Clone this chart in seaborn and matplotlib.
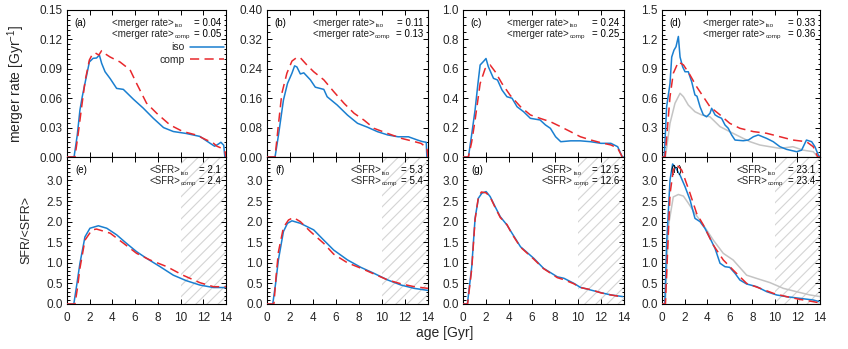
import matplotlib
matplotlib.use("Agg")
import matplotlib.pyplot as plt
import seaborn as sns
from matplotlib.ticker import MultipleLocator, AutoMinorLocator, FormatStrFormatter

# ---------------- data ----------------
# merger rate panels (a)-(d)
age_a_iso = [0.0, 0.62, 0.9, 1.14, 1.35, 1.58, 1.97, 2.3, 2.6, 2.85, 3.05, 3.35, 3.8, 4.37, 4.96, 5.4, 5.84, 6.7, 7.6, 8.5, 9.36, 10.5, 11.7, 12.6, 13.0, 13.3, 13.55, 13.8, 13.9, 14.0]
mr_a_iso = [0.0, 0.0, 0.022, 0.048, 0.062, 0.075, 0.097, 0.1007, 0.101, 0.104, 0.0956, 0.087, 0.080, 0.070, 0.069, 0.064, 0.059, 0.050, 0.0395, 0.030, 0.026, 0.024, 0.021, 0.014, 0.011, 0.013, 0.015, 0.012, 0.0, 0.0]
age_a_comp = [0.0, 0.7, 1.0, 1.3, 1.6, 1.97, 2.2, 2.46, 2.8, 3.05, 3.4, 3.8, 4.66, 5.55, 6.13, 7.0, 7.9, 9.07, 10.2, 11.4, 12.3, 12.8, 13.2, 13.6, 13.9, 14.0]
mr_a_comp = [0.0, 0.0, 0.025, 0.052, 0.078, 0.099, 0.104, 0.1064, 0.104, 0.1085, 0.105, 0.102, 0.097, 0.089, 0.075, 0.055, 0.0446, 0.0327, 0.026, 0.0224, 0.0173, 0.015, 0.011, 0.009, 0.006, 0.0]

age_b_iso = [0.0, 0.7, 1.0, 1.43, 1.78, 2.17, 2.4, 2.6, 2.9, 3.2, 3.77, 4.2, 4.94, 5.23, 6.1, 7.0, 7.87, 8.74, 9.6, 10.5, 11.4, 12.3, 13.1, 13.5, 13.85, 13.9, 14.0]
mr_b_iso = [0.0, 0.0, 0.06, 0.155, 0.2, 0.228, 0.248, 0.245, 0.226, 0.229, 0.21, 0.19, 0.184, 0.164, 0.1415, 0.114, 0.0917, 0.081, 0.069, 0.060, 0.055, 0.055, 0.046, 0.042, 0.040, 0.0, 0.0]
age_b_comp = [0.0, 0.7, 1.0, 1.29, 1.73, 2.17, 2.6, 2.9, 3.48, 4.06, 4.94, 5.8, 6.7, 7.57, 8.45, 9.3, 10.5, 11.66, 12.8, 13.4, 13.9, 14.0]
mr_b_comp = [0.0, 0.0, 0.09, 0.173, 0.228, 0.261, 0.271, 0.27, 0.25, 0.232, 0.21, 0.178, 0.146, 0.119, 0.10, 0.078, 0.064, 0.051, 0.042, 0.037, 0.025, 0.0]

age_c_iso = [0.0, 0.47, 0.75, 1.05, 1.3, 1.49, 1.78, 2.0, 2.2, 2.65, 3.0, 3.39, 3.82, 4.26, 4.7, 5.27, 5.86, 6.7, 7.17, 7.6, 8.05, 8.5, 9.36, 10.2, 11.1, 12.0, 12.86, 13.45, 13.85, 14.0]
mr_c_iso = [0.0, 0.0, 0.15, 0.32, 0.5, 0.626, 0.65, 0.67, 0.615, 0.535, 0.524, 0.456, 0.41, 0.40, 0.342, 0.308, 0.263, 0.252, 0.218, 0.195, 0.138, 0.104, 0.11, 0.11, 0.104, 0.093, 0.093, 0.07, 0.0, 0.0]
age_c_comp = [0.0, 0.47, 0.75, 1.05, 1.49, 1.92, 2.36, 2.8, 3.39, 4.1, 5.0, 5.86, 6.7, 7.6, 8.5, 9.36, 10.2, 11.1, 12.0, 12.86, 13.45, 13.85, 14.0]
mr_c_comp = [0.0, 0.0, 0.1, 0.25, 0.5, 0.6, 0.626, 0.58, 0.50, 0.42, 0.342, 0.286, 0.263, 0.24, 0.206, 0.172, 0.138, 0.116, 0.097, 0.082, 0.06, 0.0, 0.0]

age_d_iso = [0.0, 0.2, 0.41, 0.71, 0.86, 1.06, 1.24, 1.45, 1.6, 1.83, 2.04, 2.33, 2.63, 2.92, 3.1, 3.37, 3.66, 3.95, 4.25, 4.4, 4.7, 4.98, 5.28, 5.58, 5.87, 6.17, 6.47, 7.2, 7.65, 8.1, 8.53, 9.27, 9.86, 10.45, 11.04, 11.93, 12.37, 12.8, 13.26, 13.55, 13.85, 14.0]
mr_d_iso = [0.0, 0.0, 0.513, 0.75, 1.02, 1.09, 1.125, 1.23, 1.02, 0.92, 0.87, 0.87, 0.768, 0.633, 0.62, 0.513, 0.43, 0.41, 0.446, 0.497, 0.43, 0.41, 0.395, 0.327, 0.293, 0.225, 0.173, 0.166, 0.173, 0.207, 0.225, 0.19, 0.156, 0.105, 0.078, 0.054, 0.07, 0.173, 0.156, 0.105, 0.02, 0.0]
age_d_comp = [0.0, 0.27, 0.71, 1.0, 1.45, 1.9, 2.48, 3.07, 3.66, 4.25, 5.14, 6.0, 6.9, 8.1, 9.27, 10.45, 11.6, 12.8, 13.4, 13.8, 14.0]
mr_d_comp = [0.0, 0.0, 0.615, 0.854, 0.97, 0.94, 0.837, 0.717, 0.615, 0.513, 0.43, 0.344, 0.293, 0.259, 0.242, 0.207, 0.173, 0.156, 0.105, 0.0, 0.0]
age_d_all = [0.0, 0.3, 0.71, 1.15, 1.6, 1.9, 2.33, 2.92, 3.5, 4.25, 5.14, 6.0, 6.9, 7.8, 8.68, 9.56, 10.45, 11.6, 12.5, 13.4, 13.8, 14.0]
mr_d_all = [0.0, 0.0, 0.344, 0.548, 0.65, 0.615, 0.53, 0.462, 0.43, 0.41, 0.31, 0.259, 0.207, 0.156, 0.122, 0.105, 0.088, 0.105, 0.07, 0.054, 0.0, 0.0]

# normalised SFR panels (e)-(h)
age_e_iso = [0.0, 0.6, 0.85, 1.14, 1.58, 2.02, 2.76, 3.5, 4.37, 5.25, 6.13, 7.0, 8.2, 9.36, 10.5, 11.7, 12.9, 14.0]
sfr_e_iso = [0.0, 0.0, 0.45, 0.99, 1.63, 1.84, 1.90, 1.84, 1.68, 1.47, 1.27, 1.11, 0.906, 0.70, 0.567, 0.46, 0.40, 0.40]
age_e_comp = [0.0, 0.7, 0.9, 1.14, 1.58, 2.2, 2.6, 3.8, 5.0, 6.13, 7.3, 8.8, 10.2, 11.7, 12.9, 14.0]
sfr_e_comp = [0.0, 0.0, 0.35, 0.87, 1.55, 1.80, 1.82, 1.72, 1.47, 1.23, 1.07, 0.906, 0.70, 0.518, 0.42, 0.42]

age_f_iso = [0.0, 0.5, 0.75, 0.99, 1.43, 1.78, 2.17, 2.9, 4.06, 4.94, 5.8, 7.0, 8.16, 9.3, 10.5, 11.66, 12.8, 14.0]
sfr_f_iso = [0.0, 0.0, 0.5, 1.07, 1.76, 1.96, 2.02, 1.96, 1.80, 1.55, 1.31, 1.07, 0.89, 0.745, 0.583, 0.46, 0.38, 0.33]
age_f_comp = [0.0, 0.6, 0.8, 0.99, 1.43, 1.87, 2.3, 2.9, 3.77, 4.94, 5.8, 7.0, 8.16, 9.3, 10.5, 11.66, 12.8, 14.0]
sfr_f_comp = [0.0, 0.0, 0.7, 1.26, 1.86, 2.04, 2.1, 2.0, 1.76, 1.47, 1.21, 1.0, 0.87, 0.73, 0.583, 0.49, 0.42, 0.38]

age_g_iso = [0.0, 0.38, 0.76, 1.05, 1.34, 1.64, 2.01, 2.36, 2.8, 3.24, 3.82, 4.26, 5.0, 6.15, 7.0, 8.2, 8.78, 9.65, 10.2, 11.1, 12.0, 12.86, 13.9]
sfr_g_iso = [0.0, 0.0, 0.906, 2.08, 2.57, 2.69, 2.73, 2.61, 2.36, 2.12, 1.92, 1.72, 1.39, 1.11, 0.867, 0.66, 0.624, 0.50, 0.405, 0.34, 0.275, 0.22, 0.18]
age_g_comp = [0.0, 0.4, 0.76, 1.05, 1.34, 1.6, 2.0, 2.36, 2.8, 3.24, 3.82, 4.26, 5.0, 6.15, 7.0, 8.2, 8.78, 9.65, 10.2, 11.1, 12.0, 12.86, 13.9]
sfr_g_comp = [0.0, 0.0, 0.85, 2.05, 2.6, 2.72, 2.70, 2.6, 2.34, 2.1, 1.93, 1.70, 1.38, 1.09, 0.86, 0.64, 0.59, 0.49, 0.40, 0.35, 0.27, 0.22, 0.17]

age_h_iso = [0.0, 0.25, 0.41, 0.71, 0.94, 1.15, 1.6, 2.04, 2.48, 2.92, 3.37, 3.8, 4.25, 4.7, 5.14, 5.58, 6.0, 6.47, 6.9, 7.5, 8.4, 9.27, 10.16, 11.04, 12.2, 13.4, 13.9]
sfr_h_iso = [0.0, 0.0, 1.47, 3.01, 3.4, 3.33, 3.13, 2.85, 2.53, 2.08, 2.0, 1.84, 1.60, 1.35, 0.99, 0.906, 0.89, 0.745, 0.583, 0.486, 0.42, 0.30, 0.219, 0.178, 0.138, 0.097, 0.06]
age_h_comp = [0.0, 0.3, 0.71, 1.0, 1.3, 1.75, 2.48, 3.07, 3.66, 4.55, 5.43, 6.3, 7.5, 8.7, 9.86, 11.04, 12.2, 13.4, 13.9]
sfr_h_comp = [0.0, 0.0, 2.67, 3.25, 3.38, 3.25, 2.69, 2.2, 1.92, 1.43, 1.07, 0.826, 0.50, 0.38, 0.26, 0.178, 0.113, 0.057, 0.03]
age_h_all = [0.0, 0.3, 0.56, 1.0, 1.45, 1.9, 2.33, 2.92, 3.66, 4.55, 5.43, 6.3, 7.5, 8.4, 9.56, 10.75, 11.9, 13.1, 14.0]
sfr_h_all = [0.0, 0.0, 1.88, 2.6, 2.66, 2.62, 2.45, 2.2, 1.92, 1.55, 1.23, 1.07, 0.70, 0.62, 0.52, 0.38, 0.30, 0.22, 0.18]

panel_labels_top = ["(a)", "(b)", "(c)", "(d)"]
panel_labels_bot = ["(e)", "(f)", "(g)", "(h)"]
mr_iso_mean = [0.04, 0.11, 0.24, 0.33]
mr_comp_mean = [0.05, 0.13, 0.25, 0.36]
sfr_iso_mean = [2.1, 5.3, 12.5, 23.1]
sfr_comp_mean = [2.4, 5.4, 12.6, 23.4]
top_ymax = [0.15, 0.40, 1.0, 1.5]
top_ystep = [0.03, 0.08, 0.2, 0.3]
top_fmt = ["%.2f", "%.2f", "%.1f", "%.1f"]
top_minor = [6, 4, 4, 6]
sfr_ticks = [0.0, 0.5, 1.0, 1.5, 2.0, 2.5, 3.0]
x_ticks = [0, 2, 4, 6, 8, 10, 12, 14]

# ---------------- style ----------------
sns.set_style("ticks")
plt.rcParams["font.family"] = ["Liberation Sans", "DejaVu Sans"]
plt.rcParams["mathtext.fontset"] = "custom"
plt.rcParams["mathtext.rm"] = "Liberation Sans"
plt.rcParams["mathtext.it"] = "Liberation Sans:italic"
plt.rcParams["hatch.linewidth"] = 0.8

BLUE = "#1a7fd0"
RED = "#e8282c"
GREY = "#c4c4c4"
DASH = (0, (6, 3.5))

fig = plt.figure(figsize=(8.48, 3.49), dpi=100)
W, H = 848.0, 349.0
lefts = [67, 267, 463, 662]
widths = [159, 161, 161, 158]
top_y0, mid_y, bot_y1 = 10, 157, 304
renderer = fig.canvas.get_renderer()


def make_ax(i, row):
    if row == 0:
        b = (H - mid_y) / H
        h = (mid_y - top_y0) / H
    else:
        b = (H - bot_y1) / H
        h = (bot_y1 - mid_y) / H
    return fig.add_axes([lefts[i] / W, b, widths[i] / W, h])


def style_ax(ax):
    for s in ax.spines.values():
        s.set_linewidth(0.8)
        s.set_color("black")
    ax.tick_params(which="both", direction="in", top=True, right=True,
                   labelsize=8.5, width=0.7, color="black")
    ax.tick_params(which="major", length=3.5)
    ax.tick_params(which="minor", length=1.8)
    ax.tick_params(axis="x", which="major", pad=6)
    ax.tick_params(axis="y", which="major", pad=3)
    ax.set_xlim(0, 14)
    ax.set_xticks(x_ticks)
    ax.set_xlabel("")
    ax.set_ylabel("")


def sub_label(ax, x, y, main, sub, size=7, subsize=4.6):
    """main text followed by a small subscript, left aligned at axes x."""
    t = ax.text(x, y, main, transform=ax.transAxes, ha="left", va="center",
                fontsize=size)
    bb = t.get_window_extent(renderer)
    xs, ys = ax.transAxes.inverted().transform((bb.x1 + 0.5, bb.y0 + 2.0))
    ax.text(xs, ys, sub, transform=ax.transAxes, ha="left", va="center",
            fontsize=subsize)


top_data = [
    (age_a_iso, mr_a_iso, age_a_comp, mr_a_comp, None, None),
    (age_b_iso, mr_b_iso, age_b_comp, mr_b_comp, None, None),
    (age_c_iso, mr_c_iso, age_c_comp, mr_c_comp, None, None),
    (age_d_iso, mr_d_iso, age_d_comp, mr_d_comp, age_d_all, mr_d_all),
]
bot_data = [
    (age_e_iso, sfr_e_iso, age_e_comp, sfr_e_comp, None, None),
    (age_f_iso, sfr_f_iso, age_f_comp, sfr_f_comp, None, None),
    (age_g_iso, sfr_g_iso, age_g_comp, sfr_g_comp, None, None),
    (age_h_iso, sfr_h_iso, age_h_comp, sfr_h_comp, age_h_all, sfr_h_all),
]

txt_kw = dict(fontsize=7, color="black")

for i in range(4):
    # ---------- top row ----------
    ax = make_ax(i, 0)
    ai, vi, ac, vc, aa, va = top_data[i]
    if aa is not None:
        sns.lineplot(x=aa, y=va, ax=ax, color=GREY, linewidth=1.1, zorder=2)
    sns.lineplot(x=ai, y=vi, ax=ax, color=BLUE, linewidth=1.1, zorder=3,
                 label="iso" if i == 0 else None)
    sns.lineplot(x=ac, y=vc, ax=ax, color=RED, linewidth=1.1, zorder=4,
                 dashes=False, linestyle=DASH,
                 label="comp" if i == 0 else None)
    style_ax(ax)
    ax.set_ylim(0, top_ymax[i])
    ax.yaxis.set_major_locator(MultipleLocator(top_ystep[i]))
    ax.yaxis.set_major_formatter(FormatStrFormatter(top_fmt[i]))
    ax.yaxis.set_minor_locator(AutoMinorLocator(top_minor[i]))
    ax.tick_params(axis="x", labelbottom=False)
    ax.text(0.045, 0.912, panel_labels_top[i], transform=ax.transAxes,
            ha="left", va="center", **txt_kw)
    xl = [0.285, 0.285, 0.275, 0.26][i]
    sub_label(ax, xl, 0.912, "<merger rate>", "iso")
    sub_label(ax, xl, 0.84, "<merger rate>", "comp")
    ax.text(0.97, 0.912, "= %.2f" % mr_iso_mean[i], transform=ax.transAxes,
            ha="right", va="center", **txt_kw)
    ax.text(0.97, 0.84, "= %.2f" % mr_comp_mean[i], transform=ax.transAxes,
            ha="right", va="center", **txt_kw)
    if i == 0:
        ax.set_ylabel(r"merger rate [Gyr$^{-1}$]", fontsize=10)
        ax.yaxis.set_label_coords(-0.25, 0.5)
        ax.legend(loc="upper right", bbox_to_anchor=(0.99, 0.78),
                  markerfirst=False, frameon=False, fontsize=7.5,
                  handlelength=3.3, handletextpad=0.5, labelspacing=0.25,
                  borderaxespad=0.0, borderpad=0.0)
    else:
        lg = ax.get_legend()
        if lg is not None:
            lg.remove()

    # ---------- bottom row ----------
    ax = make_ax(i, 1)
    ax.axvspan(10, 14, facecolor="none", edgecolor="#d4d4d4", hatch="///",
               linewidth=0, zorder=0)
    ai, vi, ac, vc, aa, va = bot_data[i]
    if aa is not None:
        sns.lineplot(x=aa, y=va, ax=ax, color=GREY, linewidth=1.1, zorder=2)
    sns.lineplot(x=ai, y=vi, ax=ax, color=BLUE, linewidth=1.1, zorder=3)
    sns.lineplot(x=ac, y=vc, ax=ax, color=RED, linewidth=1.1, zorder=4,
                 dashes=False, linestyle=DASH)
    style_ax(ax)
    ax.set_ylim(0, 3.57)
    ax.set_yticks(sfr_ticks)
    ax.yaxis.set_major_formatter(FormatStrFormatter("%.1f"))
    ax.yaxis.set_minor_locator(AutoMinorLocator(5))
    ax.text(0.05, 0.91, panel_labels_bot[i], transform=ax.transAxes,
            ha="left", va="center", **txt_kw)
    xl = [0.52, 0.52, 0.49, 0.47][i]
    sub_label(ax, xl, 0.91, "<SFR>", "iso")
    sub_label(ax, xl, 0.84, "<SFR>", "comp")
    ax.text(0.97, 0.91, "= %.1f" % sfr_iso_mean[i], transform=ax.transAxes,
            ha="right", va="center", **txt_kw)
    ax.text(0.97, 0.84, "= %.1f" % sfr_comp_mean[i], transform=ax.transAxes,
            ha="right", va="center", **txt_kw)
    if i == 0:
        ax.set_ylabel("SFR/<SFR>", fontsize=9)
        ax.yaxis.set_label_coords(-0.22, 0.5)

fig.text(445 / W, 1 - 333 / H, "age [Gyr]", ha="center", va="center", fontsize=10)

fig.savefig("out.png", dpi=100)
